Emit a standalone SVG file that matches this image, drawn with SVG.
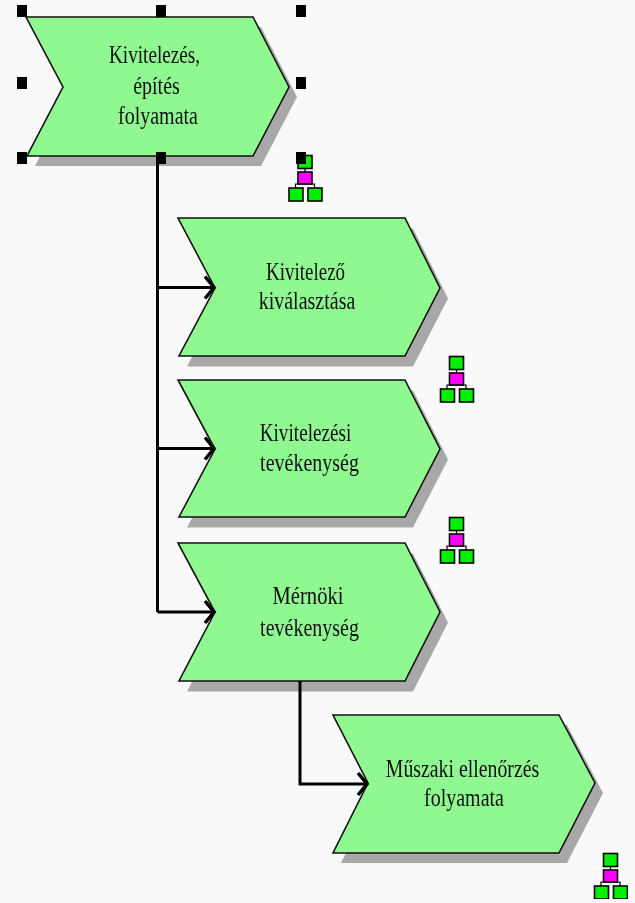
<svg xmlns="http://www.w3.org/2000/svg" xmlns:xlink="http://www.w3.org/1999/xlink" width="635" height="903" viewBox="0 0 635 903">
<style>
.bg{fill:#f9f9f9}
.sh{fill:#a8a8a8}
.fn{fill:#90f890;stroke:#111;stroke-width:1.6;stroke-linejoin:miter}
.t{font-family:"Liberation Serif","Times New Roman",serif;font-size:20px;fill:#111;text-anchor:middle}
.c{fill:none;stroke:#000;stroke-width:3}
.h{fill:#000}
.g{fill:#00f000;stroke:#000;stroke-width:1.6}
.m{fill:#ff00ff;stroke:#000;stroke-width:1.6}
.l{fill:none;stroke:#000;stroke-width:1.2}
</style>
<defs>
<filter id="soft" x="0" y="0" width="100%" height="100%"><feGaussianBlur stdDeviation="0.4"/></filter>
<marker id="a" markerUnits="userSpaceOnUse" markerWidth="16" markerHeight="26" refX="13" refY="13" orient="auto"><path d="M4 2 L13 13 L4 24" fill="none" stroke="#000" stroke-width="3.500"/></marker>
<path id="chev1" d="M26 17H253L289 87L253 156H27L63 87Z"/>
<path id="chev2" d="M178 218H405L440 288L405 356H179L215 288Z"/>
<path id="chev3" d="M178 380H405L440 449L405 517H179L215 449Z"/>
<path id="chev4" d="M178 543H405L440 612L405 681H179L215 612Z"/>
<path id="chev5" d="M333 715H559L595 783L559 853H333L368 783Z"/>
<g id="icon">
<path class="l" d="M7 33V29H26V33M16.500 13V17"/>
<rect class="g" x="9.500" y="0.500" width="14" height="13"/>
<rect class="m" x="9.500" y="17" width="14" height="12"/>
<rect class="g" x="0.500" y="33" width="14" height="13"/>
<rect class="g" x="19.500" y="33" width="14" height="13"/>
</g>
</defs>
<rect class="bg" width="635" height="903"/>
<g filter="url(#soft)">
<g id="node1">
<use class="sh" href="#chev1" x="8" y="10"/>
<use class="fn" href="#chev1"/>
<text class="t" transform="translate(154.500 63) scale(0.96 1.3)">Kivitelezés,</text>
<text class="t" transform="translate(156.500 94) scale(1 1.3)">építés</text>
<text class="t" transform="translate(158 124) scale(1 1.3)">folyamata</text>
<g transform="translate(288.500 155)"><use href="#icon"/></g>
</g>
<g id="node2">
<use class="sh" href="#chev2" x="8" y="10.500"/>
<use class="fn" href="#chev2"/>
<text class="t" transform="translate(305.500 280) scale(0.95 1.3)">Kivitelező</text>
<text class="t" transform="translate(307 309) scale(1 1.3)">kiválasztása</text>
<g transform="translate(440 356)"><use href="#icon"/></g>
</g>
<g id="node3">
<use class="sh" href="#chev3" x="8" y="10.500"/>
<use class="fn" href="#chev3"/>
<text class="t" transform="translate(305.500 441) scale(0.96 1.3)">Kivitelezési</text>
<text class="t" transform="translate(309.500 471) scale(1 1.3)">tevékenység</text>
<g transform="translate(440 517)"><use href="#icon"/></g>
</g>
<g id="node4">
<use class="sh" href="#chev4" x="8" y="10.500"/>
<use class="fn" href="#chev4"/>
<text class="t" transform="translate(308 604) scale(1.03 1.3)">Mérnöki</text>
<text class="t" transform="translate(309.500 636) scale(1 1.3)">tevékenység</text>
</g>
<g id="node5">
<use class="sh" href="#chev5" x="8" y="10"/>
<use class="fn" href="#chev5"/>
<text class="t" transform="translate(462.500 777) scale(0.99 1.3)">Műszaki ellenőrzés</text>
<text class="t" transform="translate(464 806) scale(1 1.3)">folyamata</text>
<g transform="translate(594 853)"><use href="#icon"/></g>
</g>
<g id="connectors">
<path class="c" d="M157.500 157V612M157.500 287.500H214" marker-end="url(#a)"/>
<path class="c" d="M157.500 448.500H214" marker-end="url(#a)"/>
<path class="c" d="M157.500 612H214" marker-end="url(#a)"/>
<path class="c" d="M300 681V784H367" marker-end="url(#a)"/>
</g>
<g id="handles">
<rect class="h" x="17" y="5" width="10" height="12"/><rect class="h" x="156" y="5" width="10" height="12"/><rect class="h" x="296" y="5" width="10" height="12"/>
<rect class="h" x="17" y="77" width="10" height="12"/><rect class="h" x="296" y="77" width="10" height="12"/>
<rect class="h" x="17" y="152" width="10" height="12"/><rect class="h" x="156" y="152" width="10" height="12"/><rect class="h" x="296" y="152" width="10" height="12"/>
</g>
</g>
</svg>
